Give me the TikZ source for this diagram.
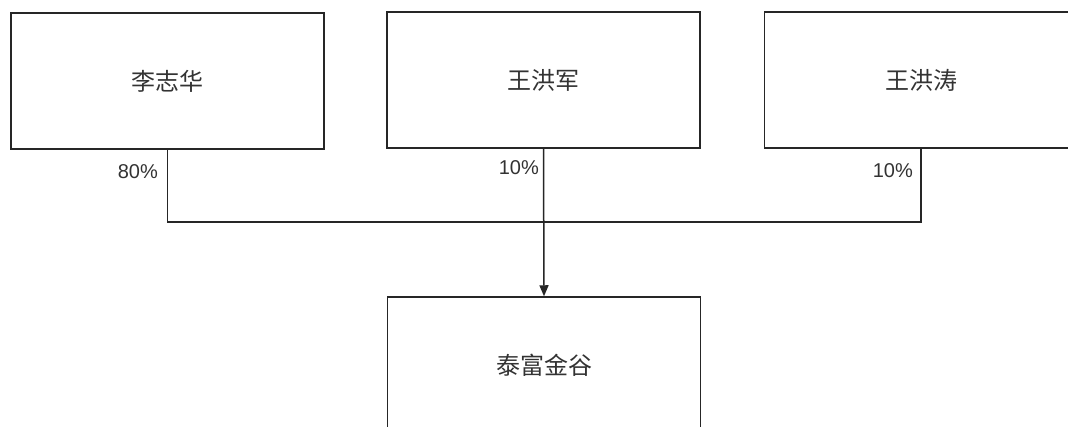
\documentclass[tikz,border=0pt]{standalone}
\usepackage{fontspec}
\setmainfont{Liberation Sans}
\newfontfamily\cjk{Noto Sans CJK SC}
\usetikzlibrary{arrows.meta}
\tikzset{
	holder/.style={draw=black!85, line width=1.5pt, minimum width=313pt, minimum height=136pt, inner sep=0pt, font=\cjk\fontsize{24}{28}\selectfont, text=black!80},
	share/.style={font=\fontsize{20}{24}\selectfont, text=black!80, inner sep=0pt},
	link/.style={draw=black!85, line width=1.5pt}
}

\begin{document}
\begin{tikzpicture}[x=1pt, y=-1pt]
		%%%%% START %%%%%
		
		\useasboundingbox (0, 0) rectangle (1068, 426);
		\clip (0, 0) rectangle (1068, 426);
		\fill[white] (0, 0) rectangle (1068, 426);
		
		\node[holder] (li) at (167.5, 81) {李志华};
		\node[holder] (wang) at (543.5, 80) {王洪军};
		\node[holder] (tao) at (921, 80) {王洪涛};
		
		\node[holder] (fu) at (544, 365) {泰富金谷};
		
		\coordinate (bus) at (544, 222);
		\draw[link] (li.south) |- (bus) -| (tao.south);
		\draw[link, -{Triangle[length=11pt, width=9pt]}] (wang.south) -- (fu.north);
		
		\node[share, anchor=east] (p1) at (158, 172) {80\%};
		\node[share, anchor=east] (p2) at (539, 168) {10\%};
		\node[share, anchor=east] (p3) at (913, 171) {10\%};
		
		%%%%% END %%%%%
	\end{tikzpicture}
\end{document}
